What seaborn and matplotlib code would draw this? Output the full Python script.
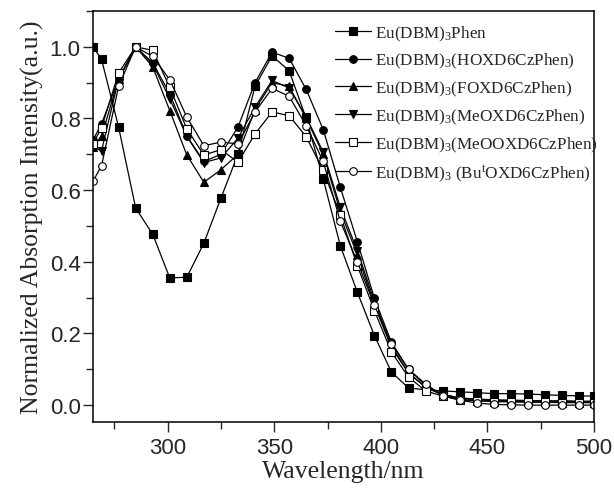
import numpy as np
import pandas as pd
import seaborn as sns
import matplotlib
matplotlib.use("Agg")
import matplotlib.pyplot as plt
from matplotlib.ticker import MultipleLocator

# wavelengths of the plotted points (nm)
wl = [265, 269, 277, 285, 293, 301, 309, 317, 325, 333, 341, 349, 357, 365, 373,
      381, 389, 397, 405, 413, 421, 429, 437, 445, 453, 461, 469, 477, 485, 493, 500]

phen = [1.0, 0.965, 0.776, 0.55, 0.477, 0.355, 0.357, 0.452, 0.578, 0.70, 0.89, 0.975,
        0.933, 0.80, 0.631, 0.445, 0.315, 0.194, 0.092, 0.048, 0.043, 0.040, 0.037,
        0.035, 0.032, 0.032, 0.031, 0.029, 0.027, 0.026, 0.025]
hoxd = [0.74, 0.785, 0.91, 1.0, 0.955, 0.869, 0.751, 0.68, 0.70, 0.776, 0.90, 0.985,
        0.968, 0.881, 0.769, 0.608, 0.456, 0.298, 0.175, 0.10, 0.055, 0.03, 0.02,
        0.017, 0.015, 0.014, 0.013, 0.012, 0.012, 0.011, 0.011]
foxd = [0.72, 0.75, 0.91, 1.0, 0.944, 0.822, 0.698, 0.622, 0.657, 0.70, 0.825, 0.90,
        0.89, 0.80, 0.70, 0.54, 0.42, 0.28, 0.16, 0.09, 0.05, 0.03, 0.02, 0.015,
        0.013, 0.012, 0.012, 0.011, 0.011, 0.010, 0.010]
meoxd = [0.72, 0.71, 0.91, 1.0, 0.952, 0.855, 0.75, 0.677, 0.69, 0.745, 0.832, 0.906,
         0.885, 0.804, 0.706, 0.552, 0.431, 0.29, 0.165, 0.09, 0.05, 0.028, 0.016,
         0.013, 0.012, 0.011, 0.010, 0.010, 0.009, 0.009, 0.009]
meooxd = [0.73, 0.774, 0.927, 1.0, 0.99, 0.887, 0.771, 0.698, 0.713, 0.678, 0.757,
          0.818, 0.808, 0.749, 0.655, 0.53, 0.389, 0.264, 0.148, 0.078, 0.04, 0.025,
          0.015, 0.012, 0.010, 0.009, 0.008, 0.008, 0.007, 0.007, 0.007]
butoxd = [0.625, 0.668, 0.89, 1.0, 0.973, 0.908, 0.804, 0.724, 0.734, 0.729, 0.818,
          0.884, 0.862, 0.78, 0.68, 0.513, 0.40, 0.279, 0.17, 0.10, 0.059, 0.026, 0.014,
          0.006, 0.002, 0.001, 0.0, 0.0, 0.0, 0.0, 0.0]

labels = [r"Eu(DBM)$_3$Phen",
          r"Eu(DBM)$_3$(HOXD6CzPhen)",
          r"Eu(DBM)$_3$(FOXD6CzPhen)",
          r"Eu(DBM)$_3$(MeOXD6CzPhen)",
          r"Eu(DBM)$_3$(MeOOXD6CzPhen)",
          r"Eu(DBM)$_3$ (Bu$^\mathrm{t}$OXD6CzPhen)"]
series = [phen, hoxd, foxd, meoxd, meooxd, butoxd]
markers = ["s", "o", "^", "v", "s", "o"]
faces = ["black", "black", "black", "black", "white", "white"]

sns.set_style("ticks")
plt.rcParams["font.family"] = ["Liberation Sans", "DejaVu Sans"]
plt.rcParams["mathtext.fontset"] = "custom"
plt.rcParams["mathtext.rm"] = "Liberation Serif"
plt.rcParams["mathtext.it"] = "Liberation Serif:italic"

fig = plt.figure(figsize=(6.14, 4.89), dpi=100)
ax = fig.add_axes([0.1515, 0.135, 0.8159, 0.8405])

for vals, lab, mk, fc in zip(series, labels, markers, faces):
    df = pd.DataFrame({"wl": wl, "val": vals})
    sns.lineplot(data=df, x="wl", y="val", ax=ax, color="black", lw=0.9,
                 marker=mk, markersize=5.5, markerfacecolor=fc,
                 markeredgecolor="black", markeredgewidth=0.8,
                 label=lab, sort=False, estimator=None)

ax.set_xlim(265, 500)
ax.set_ylim(-0.047, 1.10)
ax.xaxis.set_major_locator(MultipleLocator(50))
ax.xaxis.set_minor_locator(MultipleLocator(25))
ax.yaxis.set_major_locator(MultipleLocator(0.2))
ax.yaxis.set_minor_locator(MultipleLocator(0.1))
ax.tick_params(which="major", direction="out", length=7, width=1, labelsize=16, pad=4)
ax.tick_params(which="minor", direction="out", length=5, width=1)
ax.tick_params(axis="y", pad=2)
for s in ax.spines.values():
    s.set_linewidth(1.1)
    s.set_color("black")

ax.set_xlabel("Wavelength/nm", family="Liberation Serif", fontsize=18.5, labelpad=1)
ax.set_ylabel("Normalized Absorption Intensity(a.u.)", family="Liberation Serif",
              fontsize=18.5, labelpad=4)

ax.legend(loc="upper left", bbox_to_anchor=(0.484, 0.97), frameon=False,
          prop={"family": "Liberation Serif", "size": 12.3}, handlelength=2.1,
          handletextpad=0.2, labelspacing=0.5, borderaxespad=0, borderpad=0)

fig.savefig("out.png", dpi=100)
